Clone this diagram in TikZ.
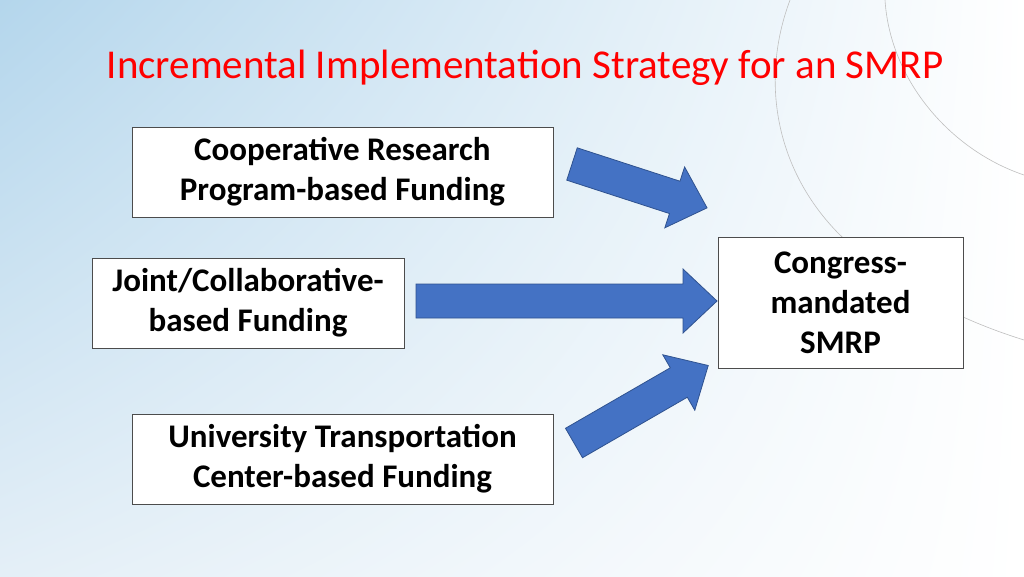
\documentclass[tikz,border=0pt]{standalone}
\usepackage{fontspec}
\usetikzlibrary{shadings}
\setmainfont{Carlito}
\begin{document}
\begin{tikzpicture}[x=1pt,y=-1pt,
  box/.style={draw=black!70,line width=0.6pt,fill=white,align=center,font=\fontsize{33}{40}\selectfont\bfseries,inner sep=0},
  barrow/.style={fill=arrowblue,draw=arrowedge,line width=0.8pt}]
\definecolor{arrowblue}{HTML}{4472C4}
\definecolor{arrowedge}{HTML}{2F528F}
\definecolor{bgblue}{HTML}{B4D6EC}
\definecolor{bgmid}{HTML}{E4EFF7}
\useasboundingbox (0,0) rectangle (1024,576);
\fill[bgmid] (0,0) rectangle (1024,576);
\shade[upper left=bgblue,upper right=white,lower left=bgmid,lower right=white] (0,0) rectangle (1024,576);
\draw[gray!50,line width=0.6pt] (790,0) .. controls (760,80) and (775,170) .. (840,235) .. controls (900,290) and (960,320) .. (1024,340);
\draw[gray!50,line width=0.6pt] (885,0) .. controls (890,80) and (950,150) .. (1024,175);
\node[text=red,font=\fontsize{41}{44}\selectfont] (title) at (525,68) {Incremental Implementation Strategy for an SMRP};
\node[box,minimum width=421,minimum height=90] (b1) at (342.5,172) {Cooperative Research\\Program-based Funding};
\node[box,minimum width=312,minimum height=90] (b2) at (248,303) {Joint/Collaborative-\\based Funding};
\node[box,minimum width=421,minimum height=90] (b3) at (342.5,459) {University Transportation\\Center-based Funding};
\node[box,minimum width=245,minimum height=131] (b4) at (840.5,302.5) {Congress-\\mandated\\SMRP};
\newcommand{\blockarr}[4]{\begin{scope}[shift={(#1,#2)},rotate=#3]
\draw[barrow] (0,-17) -- (#4-34,-17) -- (#4-34,-32) -- (#4,0) -- (#4-34,32) -- (#4-34,17) -- (0,17) -- cycle;
\end{scope}}
\blockarr{572}{164}{-18}{142}
\blockarr{416}{301}{0}{301}
\blockarr{574}{443}{30}{155}
\end{tikzpicture}
\end{document}
